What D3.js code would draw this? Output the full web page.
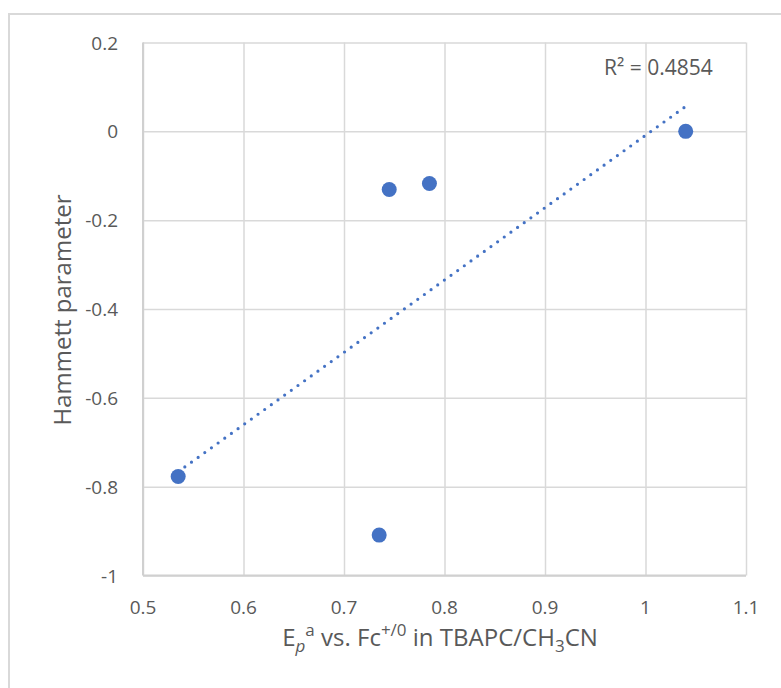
<!DOCTYPE html>
<html>
<head>
<meta charset="utf-8">
<script src="https://cdn.jsdelivr.net/npm/d3@7"></script>
<style>
  html, body { margin: 0; padding: 0; background: #fff; }
  svg { display: block; }
  text { font-family: "Open Sans", "Liberation Sans", sans-serif; fill: #595959; }
</style>
</head>
<body>
<svg id="chart" width="781" height="688"></svg>
<script>
// Anodic peak potential (V vs. Fc+/0) against Hammett parameter
const potentials = [0.535, 0.735, 0.745, 0.785, 1.04];
const hammett    = [-0.777, -0.909, -0.131, -0.1175, 0.0];
const xTicks = [0.5, 0.6, 0.7, 0.8, 0.9, 1, 1.1];
const yTicks = [0.2, 0, -0.2, -0.4, -0.6, -0.8, -1];
const r2Label = "R² = 0.4854";
const yTitle = "Hammett parameter";

const W = 781, H = 688;
const plot = { left: 143, right: 746, top: 42.5, bottom: 575.5 };
const blue = "#4472C4";
const grid = "#d9d9d9";

const svg = d3.select("#chart");

// outer chart frame
svg.append("rect")
  .attr("x", 9).attr("y", 14)
  .attr("width", W + 20).attr("height", H + 20)
  .attr("fill", "none").attr("stroke", grid).attr("stroke-width", 2);

const x = d3.scaleLinear().domain([0.5, 1.1]).range([plot.left, plot.right]);
const y = d3.scaleLinear().domain([-1, 0.2]).range([plot.bottom, plot.top]);

// gridlines
const gx = svg.append("g").attr("transform", `translate(0,${plot.bottom})`)
  .call(d3.axisBottom(x).tickValues(xTicks).tickSize(-(plot.bottom - plot.top)).tickFormat(""));
const gy = svg.append("g").attr("transform", `translate(${plot.left},0)`)
  .call(d3.axisLeft(y).tickValues(yTicks).tickSize(-(plot.right - plot.left)).tickFormat(""));
[gx, gy].forEach(g => {
  g.select(".domain").remove();
  g.selectAll(".tick line").attr("stroke", grid).attr("stroke-width", 1.5);
});
// axis lines
svg.append("line").attr("x1", plot.left).attr("x2", plot.left)
  .attr("y1", plot.top).attr("y2", plot.bottom).attr("stroke", "#d0d0d0").attr("stroke-width", 2);
svg.append("line").attr("x1", plot.left).attr("x2", plot.right)
  .attr("y1", plot.bottom).attr("y2", plot.bottom).attr("stroke", "#d0d0d0").attr("stroke-width", 2);

// tick labels
const fmt = v => String(v);
svg.append("g").selectAll("text").data(xTicks).join("text")
  .attr("x", d => x(d)).attr("y", plot.bottom + 38)
  .attr("text-anchor", "middle").attr("font-size", 19)
  .text(fmt);
svg.append("g").selectAll("text").data(yTicks).join("text")
  .attr("x", plot.left - 25).attr("y", d => y(d) + 7)
  .attr("text-anchor", "end").attr("font-size", 19)
  .text(fmt);

// linear least-squares trendline over the data range
const n = potentials.length;
const mx = d3.mean(potentials), my = d3.mean(hammett);
let sxy = 0, sxx = 0;
for (let i = 0; i < n; i++) {
  sxy += (potentials[i] - mx) * (hammett[i] - my);
  sxx += (potentials[i] - mx) ** 2;
}
const slope = sxy / sxx, intercept = my - slope * mx;
const [x0, x1] = d3.extent(potentials);
svg.append("line")
  .attr("x1", x(x0)).attr("y1", y(slope * x0 + intercept))
  .attr("x2", x(x1)).attr("y2", y(slope * x1 + intercept))
  .attr("stroke", blue).attr("stroke-width", 3.2)
  .attr("stroke-linecap", "round")
  .attr("stroke-dasharray", "0 8.2");

// data points
svg.append("g").selectAll("circle").data(potentials).join("circle")
  .attr("cx", d => x(d)).attr("cy", (d, i) => y(hammett[i]))
  .attr("r", 7.5).attr("fill", blue);

// R² annotation
svg.append("text").attr("x", 604).attr("y", 75)
  .attr("font-size", 21).text(r2Label);

// y-axis title
svg.append("text")
  .attr("transform", `translate(71,310) rotate(-90)`)
  .attr("text-anchor", "middle").attr("font-size", 24)
  .text(yTitle);

// x-axis title with sub/superscripts
const xt = svg.append("text").attr("x", 440).attr("y", 646)
  .attr("text-anchor", "middle").attr("font-size", 24);
xt.append("tspan").text("E");
xt.append("tspan").attr("font-style", "italic").attr("font-size", 17).attr("dy", 6).text("p");
xt.append("tspan").attr("font-size", 17).attr("dy", -16).text("a");
xt.append("tspan").attr("dy", 10).text(" vs. Fc");
xt.append("tspan").attr("font-size", 17).attr("dy", -10).text("+/0");
xt.append("tspan").attr("dy", 10).text(" in TBAPC/CH");
xt.append("tspan").attr("font-size", 17).attr("dy", 6).text("3");
xt.append("tspan").attr("dy", -6).text("CN");
</script>
</body>
</html>
